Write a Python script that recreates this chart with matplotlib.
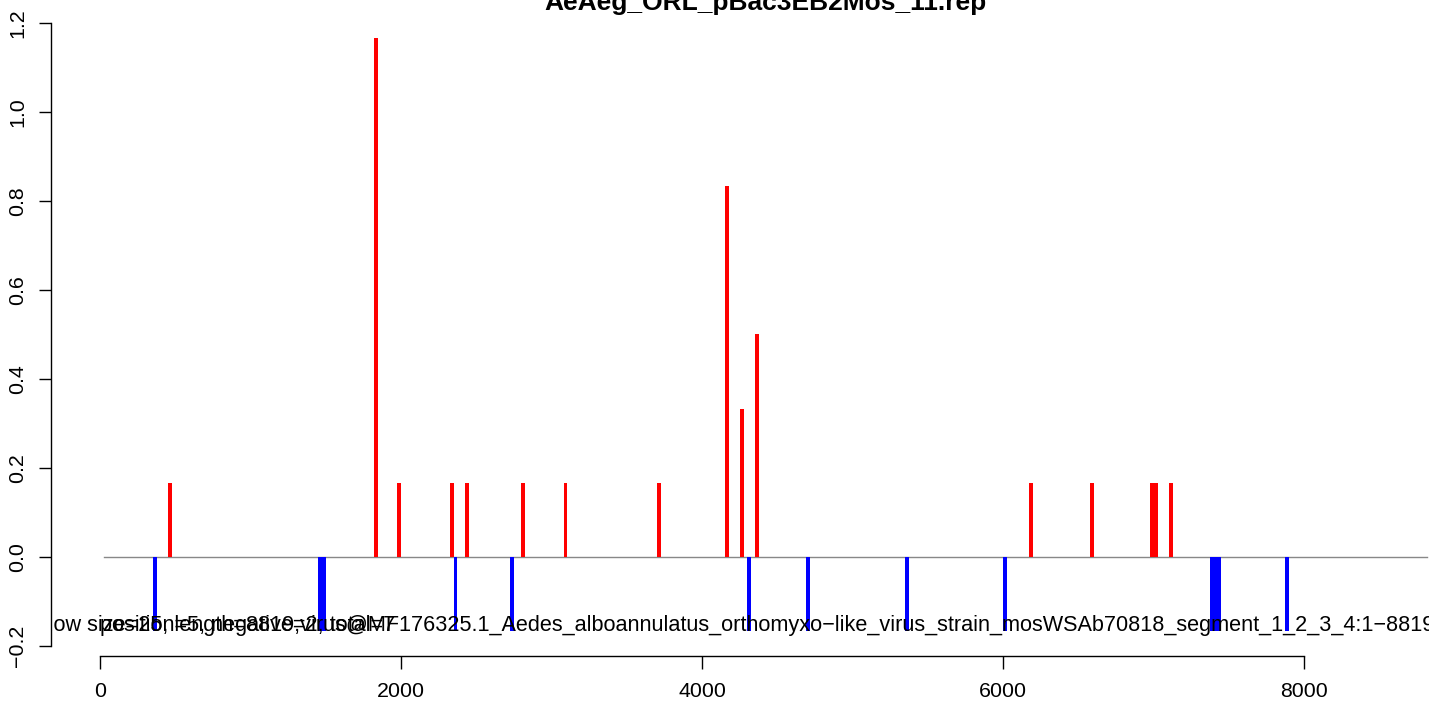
import matplotlib
matplotlib.use("Agg")
import matplotlib.pyplot as plt

plt.rcParams['font.family'] = ['Liberation Sans', 'DejaVu Sans']

# window starts (bp) and scores, window size 25
win = 25
red_start = [455, 1820, 1975, 2325, 2425, 2800, 3080, 3700, 4155, 4255, 4355,
             6175, 6580, 6980, 7005, 7105]
red_score = [1/6, 7/6, 1/6, 1/6, 1/6, 1/6, 1/6, 1/6, 5/6, 2/6, 3/6,
             1/6, 1/6, 1/6, 1/6, 1/6]
blue_start = [355, 1450, 1475, 2350, 2725, 4300, 4690, 5350, 6000,
              7375, 7400, 7425, 7875]
blue_score = [-1/6] * len(blue_start)

seq_len = 8819
title = "AeAeg_ORL_pBac3EB2Mos_11.rep"
label_main = ("window size=25, length=8819,virus@MF176325.1_Aedes_alboannulatus_"
              "orthomyxo\u2212like_virus_strain_mosWSAb70818_segment_1_2_3_4:1\u22128819")
label_extra = "position=5, negative=2, total=7"

fig = plt.figure(figsize=(14.29, 7.04), dpi=100)
W, H = 1429, 704
# plot region runs past the right edge of the image, like the original
ax = fig.add_axes([51 / W, (H - 656) / H, (1480 - 51) / W, (656 - 14) / H])
ax.set_xlim(-325.6, 9169.4)
ax.set_ylim(-0.2225, 1.2202)

ax.plot([win, seq_len], [0, 0], color='#888888', lw=1.0, zorder=1)
ax.bar(red_start, red_score, width=win, align='edge', color='red', lw=0, zorder=2)
ax.bar(blue_start, blue_score, width=win, align='edge', color='blue', lw=0, zorder=2)

for side in ['top', 'right']:
    ax.spines[side].set_visible(False)
ax.spines['bottom'].set_bounds(0, 8000)
ax.spines['left'].set_bounds(-0.2, 1.2)
for side in ['bottom', 'left']:
    ax.spines[side].set_linewidth(1.0)

fs = 15.4
ax.set_xticks([0, 2000, 4000, 6000, 8000])
ax.set_yticks([-0.2, 0.0, 0.2, 0.4, 0.6, 0.8, 1.0, 1.2])
ax.set_yticklabels(['\u22120.2', '0.0', '0.2', '0.4', '0.6', '0.8', '1.0', '1.2'])
ax.tick_params(axis='both', direction='out', length=9, width=1.0, labelsize=fs)
ax.tick_params(axis='x', pad=9.5)
ax.tick_params(axis='y', pad=8)
for lab in ax.get_yticklabels():
    lab.set_rotation(90)
    lab.set_va('center')

# overlapping annotation strings, clipped at the plot region like in R
px = lambda p: (p - 100) / 0.1505
t1 = ax.text(px(1434), -0.155, label_main, fontsize=15.55, ha='right', va='center')
t2 = ax.text(px(100), -0.155, label_extra, fontsize=15.55, ha='left', va='center')
for t in (t1, t2):
    t.set_clip_on(True)
    t.set_clip_box(ax.bbox)

fig.text(765 / W, 1 - 10 / H, title, ha='center', va='baseline',
         fontsize=19, fontweight='bold')

fig.savefig('out.png', dpi=100)
